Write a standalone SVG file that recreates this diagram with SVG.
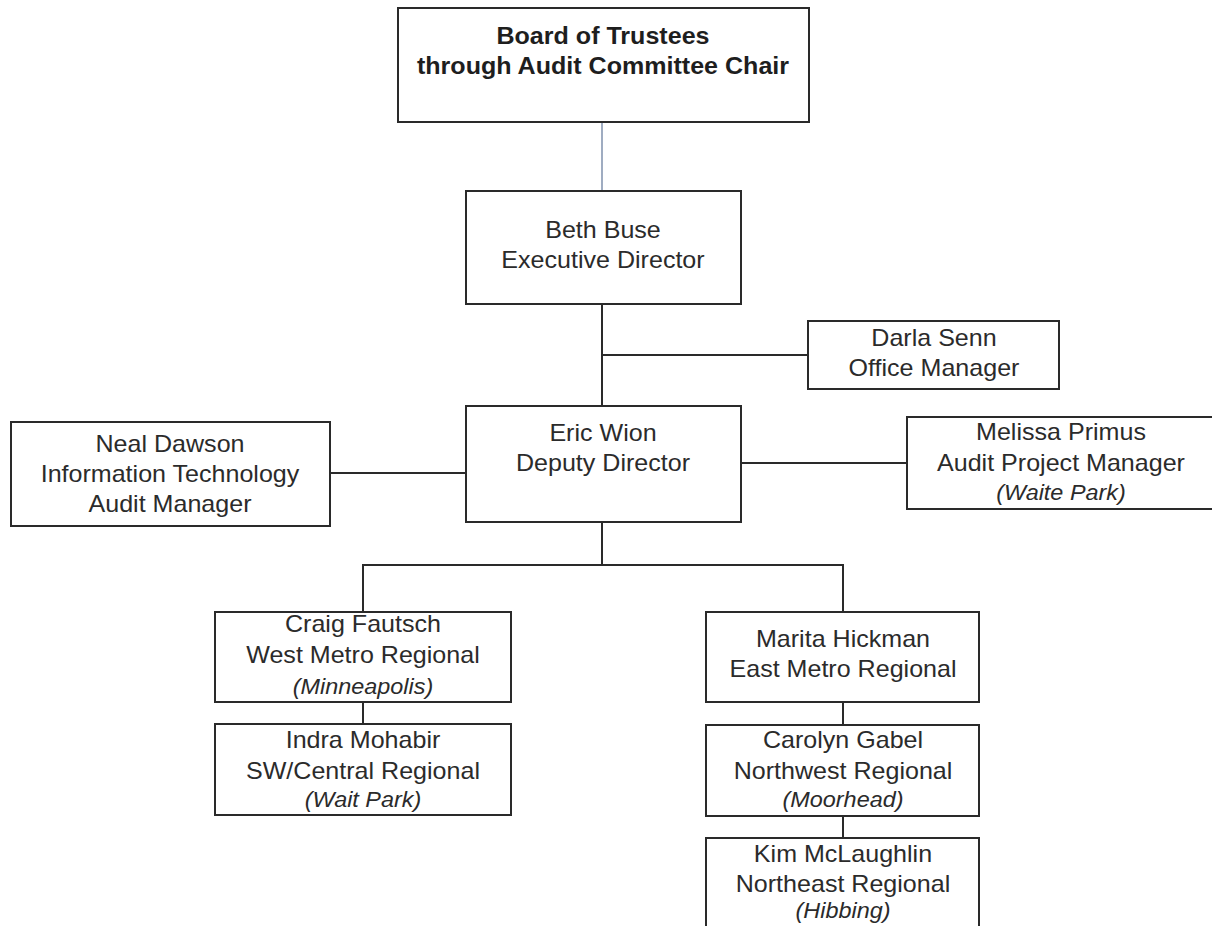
<svg xmlns="http://www.w3.org/2000/svg" width="1212" height="926" viewBox="0 0 1212 926">
<style>
.box{fill:#fff;stroke:#2a2a2a;stroke-width:2}
.ln{fill:none;stroke:#2a2a2a;stroke-width:2}
.lnb{fill:none;stroke:#7f90ad;stroke-width:1.5}
text{font-family:"Liberation Sans",Arial,sans-serif;font-size:23px;fill:#2b2b2b;text-anchor:middle;transform-box:fill-box;transform-origin:center;transform:scaleX(1.09)}
.b{font-weight:bold;fill:#1e1e1e}
.i{font-style:italic;font-size:21.5px}
</style>
<rect width="1212" height="926" fill="#fff"/>
<g id="connectors">
<line class="lnb" x1="602" y1="122" x2="602" y2="191"/>
<line class="ln" x1="602" y1="304" x2="602" y2="406"/>
<line class="ln" x1="602" y1="355" x2="808" y2="355"/>
<line class="ln" x1="330" y1="473" x2="466" y2="473"/>
<line class="ln" x1="741" y1="463" x2="907" y2="463"/>
<line class="ln" x1="602" y1="522" x2="602" y2="565"/>
<polyline class="ln" points="363,612 363,565 843,565 843,612"/>
<line class="ln" x1="363" y1="702" x2="363" y2="724"/>
<line class="ln" x1="843" y1="702" x2="843" y2="725"/>
<line class="ln" x1="843" y1="816" x2="843" y2="838"/>
</g>
<g id="board">
<rect class="box" x="398" y="8" width="411" height="114"/>
<text class="b" x="603" y="44">Board of Trustees</text>
<text class="b" x="603" y="74">through Audit Committee Chair</text>
</g>
<g id="beth">
<rect class="box" x="466" y="191" width="275" height="113"/>
<text x="603" y="238">Beth Buse</text>
<text x="603" y="268">Executive Director</text>
</g>
<g id="darla">
<rect class="box" x="808" y="321" width="251" height="68"/>
<text x="934" y="346">Darla Senn</text>
<text x="934" y="376">Office Manager</text>
</g>
<g id="eric">
<rect class="box" x="466" y="406" width="275" height="116"/>
<text x="603" y="441">Eric Wion</text>
<text x="603" y="471">Deputy Director</text>
</g>
<g id="neal">
<rect class="box" x="11" y="422" width="319" height="104"/>
<text x="170" y="452">Neal Dawson</text>
<text x="170" y="482">Information Technology</text>
<text x="170" y="512">Audit Manager</text>
</g>
<g id="melissa">
<rect class="box" x="907" y="417" width="320" height="92"/>
<text x="1061" y="440">Melissa Primus</text>
<text x="1061" y="471">Audit Project Manager</text>
<text class="i" x="1061" y="500">(Waite Park)</text>
</g>
<g id="craig">
<rect class="box" x="215" y="612" width="296" height="90"/>
<text x="363" y="632">Craig Fautsch</text>
<text x="363" y="663">West Metro Regional</text>
<text class="i" x="363" y="694">(Minneapolis)</text>
</g>
<g id="indra">
<rect class="box" x="215" y="724" width="296" height="91"/>
<text x="363" y="748">Indra Mohabir</text>
<text x="363" y="779">SW/Central Regional</text>
<text class="i" x="363" y="807">(Wait Park)</text>
</g>
<g id="marita">
<rect class="box" x="706" y="612" width="273" height="90"/>
<text x="843" y="647">Marita Hickman</text>
<text x="843" y="677">East Metro Regional</text>
</g>
<g id="carolyn">
<rect class="box" x="706" y="725" width="273" height="91"/>
<text x="843" y="748">Carolyn Gabel</text>
<text x="843" y="779">Northwest Regional</text>
<text class="i" x="843" y="807">(Moorhead)</text>
</g>
<g id="kim">
<rect class="box" x="706" y="838" width="273" height="100"/>
<text x="843" y="862">Kim McLaughlin</text>
<text x="843" y="892">Northeast Regional</text>
<text class="i" x="843" y="918">(Hibbing)</text>
</g>
</svg>
